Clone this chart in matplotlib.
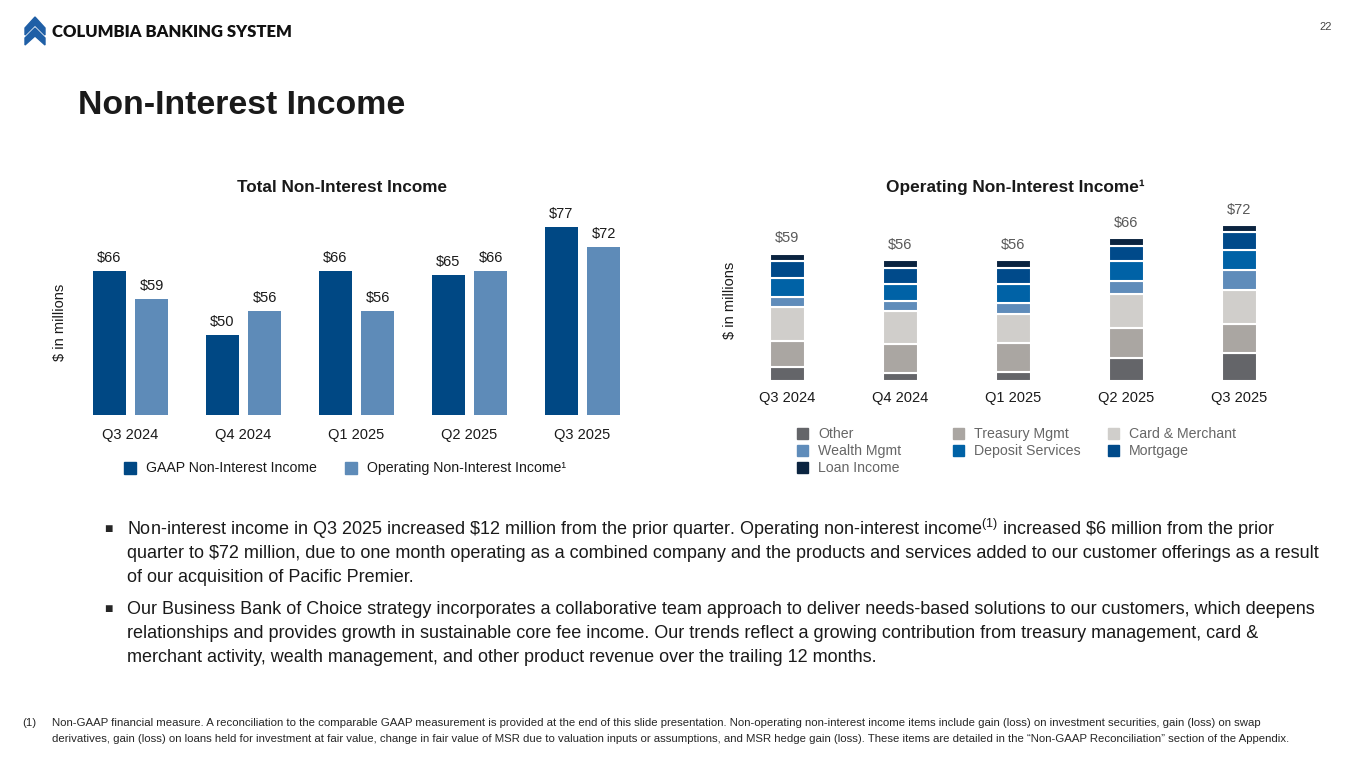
import matplotlib
matplotlib.use("Agg")
import matplotlib.pyplot as plt
from matplotlib.patches import Rectangle, Polygon
import numpy as np

plt.rcParams['font.family'] = ['Liberation Sans', 'DejaVu Sans']
plt.rcParams['mathtext.fontset'] = 'custom'
plt.rcParams['mathtext.rm'] = 'Liberation Sans'
plt.rcParams['mathtext.it'] = 'Liberation Sans:italic'
plt.rcParams['mathtext.bf'] = 'Liberation Sans:bold'

# ---------------- data ----------------
quarters = ["Q3 2024", "Q4 2024", "Q1 2025", "Q2 2025", "Q3 2025"]
gaap_income = [66, 50, 66, 65, 77]
operating_income = [59, 56, 56, 66, 72]

segment_names = ["Other", "Treasury Mgmt", "Card & Merchant", "Wealth Mgmt",
                 "Deposit Services", "Mortgage", "Loan Income"]
other = [6.3, 3.6, 4.3, 10.8, 12.8]
treasury_mgmt = [12.4, 13.3, 13.3, 13.9, 13.8]
card_merchant = [15.5, 15.5, 13.6, 15.5, 15.5]
wealth_mgmt = [4.8, 4.6, 4.9, 5.9, 9.4]
deposit_services = [8.5, 8.0, 8.8, 9.4, 9.0]
mortgage = [8.0, 7.4, 7.4, 7.0, 8.3]
loan_income = [3.5, 3.6, 3.7, 3.5, 3.2]
segments = [other, treasury_mgmt, card_merchant, wealth_mgmt,
            deposit_services, mortgage, loan_income]

# ---------------- styles ----------------
C_GAAP = "#004884"
C_OP = "#5E8BB8"
seg_colors = ["#646569", "#AAA6A2", "#D0CECB", "#5F8CBA", "#0062A6", "#004A8A", "#0B2440"]

W, H = 1365, 768
fig = plt.figure(figsize=(W / 100, H / 100), dpi=100)
fig.patch.set_facecolor("white")


def px_axes(x0, y0, x1, y1, **kw):
    return fig.add_axes([x0 / W, 1 - y1 / H, (x1 - x0) / W, (y1 - y0) / H], **kw)


# overlay for slide furniture (pixel coordinates)
ov = px_axes(0, 0, W, H)
ov.set_xlim(0, W)
ov.set_ylim(H, 0)
ov.axis("off")
ov.set_zorder(-1)

# ---------------- left chart ----------------
axL = px_axes(74, 190, 639, 415)
x = np.arange(len(quarters))
bw = 0.30
off = 0.186
b1 = axL.bar(x - off, gaap_income, bw, color=C_GAAP, bottom=0)
b2 = axL.bar(x + off, operating_income, bw, color=C_OP)
axL.set_ylim(30, 30 + 225 / 4.0)
axL.set_xlim(-0.5, len(quarters) - 0.5)
for bars, vals in ((b1, gaap_income), (b2, operating_income)):
    for r, v in zip(bars, vals):
        axL.annotate(f"${v}", (r.get_x() + r.get_width() / 2, v), xytext=(0, 4),
                     textcoords="offset points", ha="center", va="bottom",
                     fontsize=10.5, color="#1a1a1a")
axL.set_xticks(x)
axL.set_xticklabels(quarters, fontsize=10.5, color="#1a1a1a")
axL.tick_params(axis="x", length=0, pad=9)
axL.set_yticks([])
for s in axL.spines.values():
    s.set_visible(False)
axL.patch.set_alpha(0)

# ---------------- right chart ----------------
axR = px_axes(731, 195, 1296, 381)
bwR = 0.31
bottom = np.zeros(len(quarters))
for vals, col, name in zip(segments, seg_colors, segment_names):
    axR.bar(x, vals, bwR, bottom=bottom, color=col, edgecolor="white",
            linewidth=1.5, label=name)
    bottom = bottom + np.array(vals)
for xi, top, tot in zip(x, bottom, operating_income):
    axR.annotate(f"${tot}", (xi, top), xytext=(0, 6), textcoords="offset points",
                 ha="center", va="bottom", fontsize=10.5, color="#595959")
axR.set_ylim(0, 186 / 2.16)
axR.set_xlim(-0.5, len(quarters) - 0.5)
axR.set_xticks(x)
axR.set_xticklabels(quarters, fontsize=10.5, color="#1a1a1a")
axR.tick_params(axis="x", length=0, pad=7)
axR.set_yticks([])
for s in axR.spines.values():
    s.set_visible(False)
axR.patch.set_alpha(0)

# axis labels & titles
ov.text(60, 322, "$ in millions", rotation=90, ha="center", va="center",
        fontsize=10.5, color="#1a1a1a")
ov.text(730, 300, "$ in millions", rotation=90, ha="center", va="center",
        fontsize=10.5, color="#1a1a1a")
ov.text(342, 187, "Total Non-Interest Income", ha="center", va="center",
        fontsize=12.3, fontweight="bold", color="#1a1a1a")
ov.text(1015, 187, "Operating Non-Interest Income\u00b9", ha="center", va="center",
        fontsize=12.4, fontweight="bold", color="#1a1a1a")

# left legend
for sx, tx, col, lab in ((124, 146, C_GAAP, "GAAP Non-Interest Income"),
                         (345, 367, C_OP, "Operating Non-Interest Income\u00b9")):
    ov.add_patch(Rectangle((sx, 462), 12, 12, color=col))
    ov.text(tx, 468, lab, ha="left", va="center", fontsize=10.2, color="#1a1a1a")

# right legend
leg_pos = [(797, 434), (953, 434), (1108, 434), (797, 451), (953, 451),
           (1108, 451), (797, 468)]
leg_order = [0, 1, 2, 3, 4, 5, 6]
for (lx, ly), i in zip(leg_pos, leg_order):
    ov.add_patch(Rectangle((lx, ly - 6), 11, 11, color=seg_colors[i]))
    ov.text(lx + 21, ly, segment_names[i], ha="left", va="center",
            fontsize=10.2, color="#666666")

# ---------------- slide furniture ----------------
logo_blue = "#1F5FA6"
ov.add_patch(Polygon([(25, 28), (35, 17), (45, 28), (45, 35), (35, 25), (25, 35)],
                     closed=True, color=logo_blue))
ov.add_patch(Polygon([(25, 38), (35, 28), (45, 38), (45, 45), (35, 36), (25, 45)],
                     closed=True, color=logo_blue))
ov.text(52, 32, "COLUMBIA BANKING SYSTEM", ha="left", va="center",
        fontsize=12, fontweight="heavy", family=["Lato", "DejaVu Sans"], color="#111111")
ov.text(1326, 27, "22", ha="center", va="center", fontsize=8, color="#444444")
ov.text(78, 105, "Non-Interest Income", ha="left", va="center", fontsize=24.4,
        fontweight="bold", color="#1a1a1a")

body_fs = 13
p1 = [r"Non-interest income in Q3 2025 increased \$12 million from the prior quarter. Operating non-interest income$^{\mathrm{(1)}}$ increased \$6 million from the prior",
      "quarter to $72 million, due to one month operating as a combined company and the products and services added to our customer offerings as a result",
      "of our acquisition of Pacific Premier."]
p2 = ["Our Business Bank of Choice strategy incorporates a collaborative team approach to deliver needs-based solutions to our customers, which deepens",
      "relationships and provides growth in sustainable core fee income. Our trends reflect a growing contribution from treasury management, card &",
      "merchant activity, wealth management, and other product revenue over the trailing 12 months."]
for y0, lines in ((529, p1), (609, p2)):
    ov.text(104, y0, "\u25a0", ha="left", va="center", fontsize=10, color="#262626")
    for k, ln in enumerate(lines):
        ov.text(127, y0 + 24 * k, ln, ha="left", va="center", fontsize=body_fs,
                color="#1a1a1a")

fn = ["Non-GAAP financial measure. A reconciliation to the comparable GAAP measurement is provided at the end of this slide presentation. Non-operating non-interest income items include gain (loss) on investment securities, gain (loss) on swap",
      "derivatives, gain (loss) on loans held for investment at fair value, change in fair value of MSR due to valuation inputs or assumptions, and MSR hedge gain (loss). These items are detailed in the \u201cNon-GAAP Reconciliation\u201d section of the Appendix."]
ov.text(22, 723, "(1)", ha="left", va="center", fontsize=8.2, color="#262626")
for k, ln in enumerate(fn):
    ov.text(52, 723 + 16 * k, ln, ha="left", va="center", fontsize=8.2, color="#262626")

fig.savefig("out.png", dpi=100, facecolor="white")
